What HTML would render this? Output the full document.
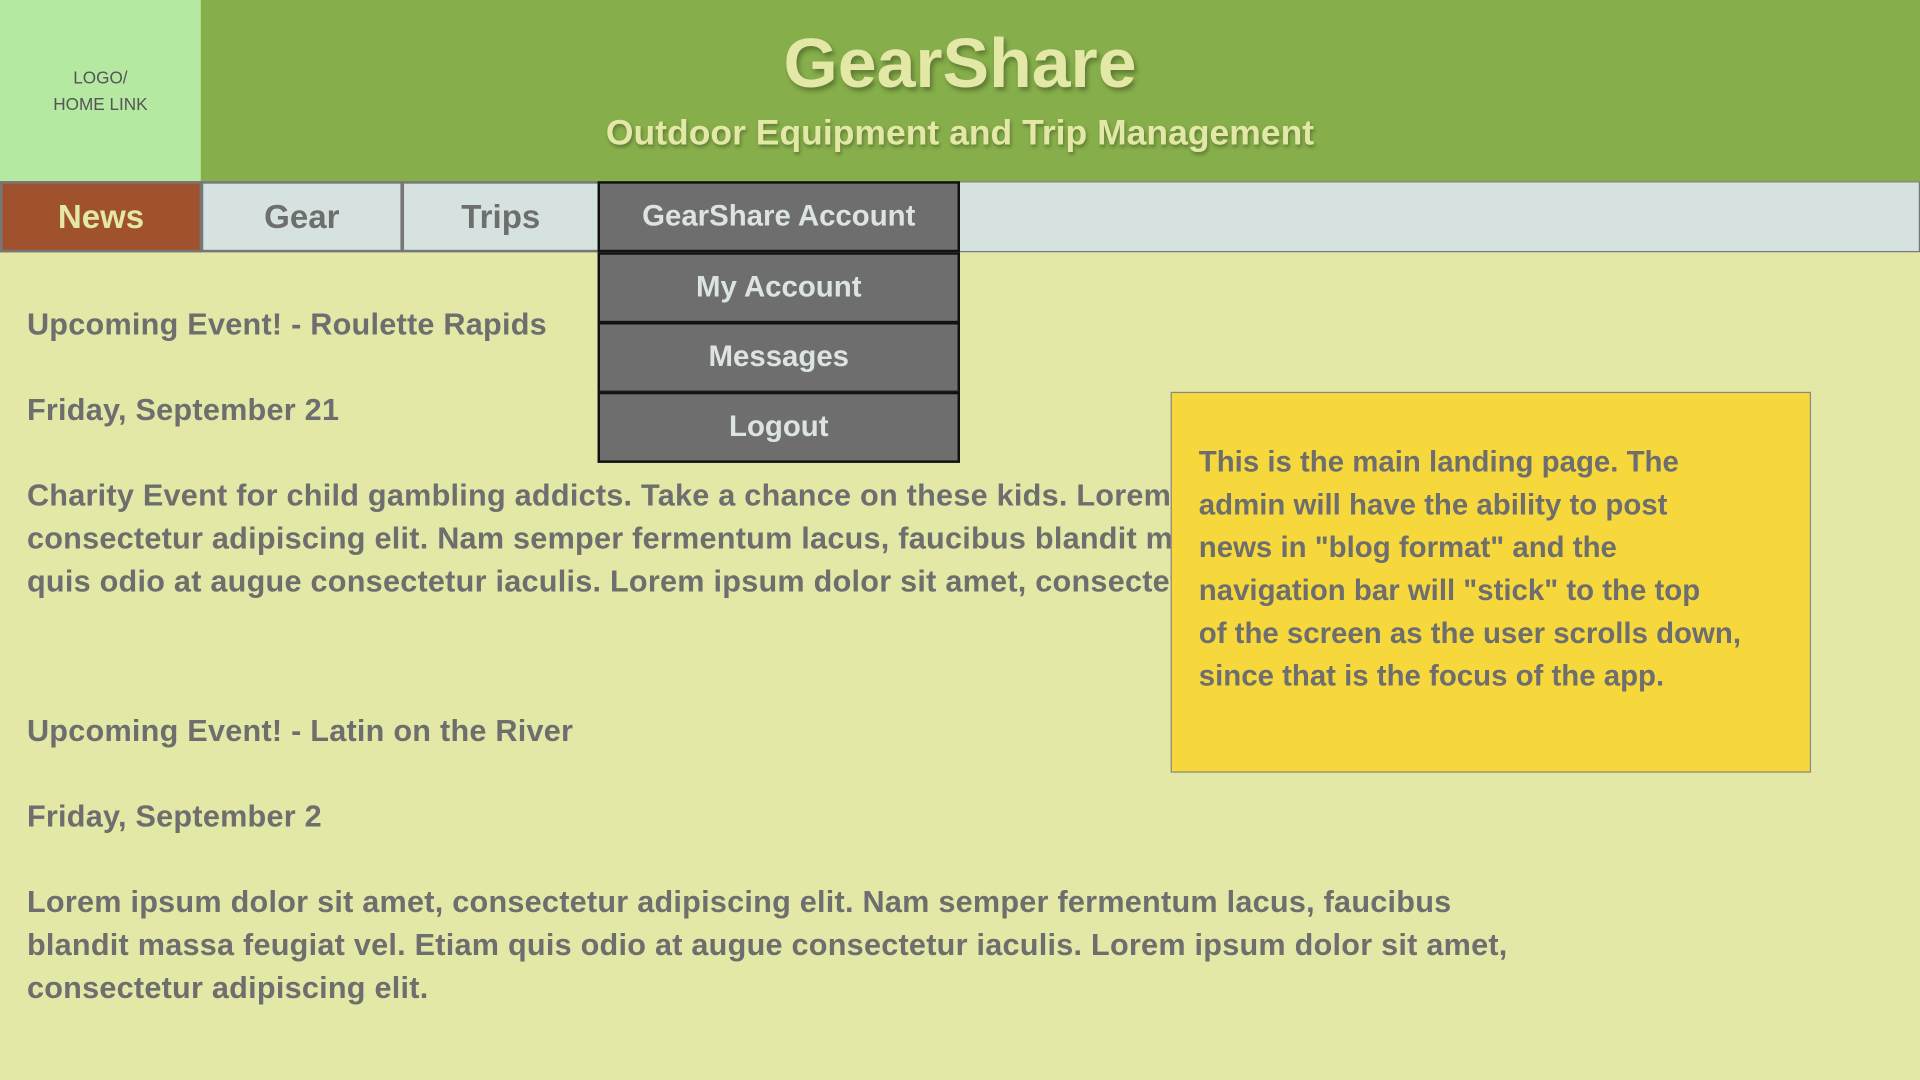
<!DOCTYPE html>
<html><head><meta charset="utf-8"><style>
html,body{margin:0;padding:0;width:1920px;height:1080px;overflow:hidden;background:#E3E8A6}
#s{position:absolute;left:0;top:0;width:1568px;height:882px;transform:scale(1.22449);transform-origin:0 0;font-family:"Liberation Sans",sans-serif;font-weight:bold;color:#6E6E6E;background:#E3E8A6}
.a{position:absolute;white-space:nowrap}
.c{display:flex;align-items:center;justify-content:center;box-sizing:border-box}
.t{font-size:25px;line-height:35px;letter-spacing:0.2px}
</style></head><body><div id="s">
<div class="a" style="left:0;top:0;width:1568px;height:148px;background:#86AE4A"></div>
<div class="a c" style="left:0;top:0;width:164px;height:148px;background:#B5E8A0;font-weight:normal;font-size:14px;line-height:22px;text-align:center;color:#555">LOGO/<br>HOME LINK</div>
<div class="a" style="left:164px;width:1240px;top:19px;text-align:center;font-size:57px;color:#E3E8A6;text-shadow:2px 3px 4px rgba(0,0,0,.3)">GearShare</div>
<div class="a" style="left:164px;width:1240px;top:93px;text-align:center;font-size:29px;color:#E3E8A6;text-shadow:1px 2px 3px rgba(0,0,0,.3)">Outdoor Equipment and Trip Management</div>
<div class="a" style="left:0;top:148px;width:1568px;height:58px;background:#D6E2E0;border:1px solid #777;box-sizing:border-box"></div>
<div class="a c" style="left:0;top:148px;width:165px;height:58px;background:#A0512D;border:2px solid #777;color:#E3E8A6;font-size:27px">News</div>
<div class="a c" style="left:164px;top:148px;width:165px;height:58px;border:2px solid #777;font-size:27px">Gear</div>
<div class="a c" style="left:328px;top:148px;width:162px;height:58px;border:2px solid #777;font-size:27px">Trips</div>
<div class="a c" style="left:488px;top:148px;width:296px;height:58px;background:#6E6E6E;border:2px solid #111;color:#DCE4E0;font-size:24px">GearShare Account</div>
<div class="a c" style="left:488px;top:206px;width:296px;height:58px;background:#6E6E6E;border:2px solid #111;color:#DCE4E0;font-size:24px">My Account</div>
<div class="a c" style="left:488px;top:263px;width:296px;height:58px;background:#6E6E6E;border:2px solid #111;color:#DCE4E0;font-size:24px">Messages</div>
<div class="a c" style="left:488px;top:320px;width:296px;height:58px;background:#6E6E6E;border:2px solid #111;color:#DCE4E0;font-size:24px">Logout</div>
<div class="a t" style="left:22px;top:248px">Upcoming Event! - Roulette Rapids</div>
<div class="a t" style="left:22px;top:318px">Friday, September 21</div>
<div class="a t" style="left:22px;top:388px">Charity Event for child gambling addicts. Take a chance on these kids. Lorem ipsum dolor sit amet,<br>consectetur adipiscing elit. Nam semper fermentum lacus, faucibus blandit massa feugiat vel. Etiam<br>quis odio at augue consectetur iaculis. Lorem ipsum dolor sit amet, consectetur adipiscing elit.</div>
<div class="a t" style="left:22px;top:580px">Upcoming Event! - Latin on the River</div>
<div class="a t" style="left:22px;top:650px">Friday, September 2</div>
<div class="a t" style="left:22px;top:720px">Lorem ipsum dolor sit amet, consectetur adipiscing elit. Nam semper fermentum lacus, faucibus<br>blandit massa feugiat vel. Etiam quis odio at augue consectetur iaculis. Lorem ipsum dolor sit amet,<br>consectetur adipiscing elit.</div>
<div class="a" style="left:956px;top:320px;width:523px;height:311px;background:#F6D83D;border:1px solid #888;box-sizing:border-box"></div>
<div class="a" style="left:979px;top:360px;font-size:24px;line-height:35px">This is the main landing page. The<br>admin will have the ability to post<br>news in "blog format" and the<br>navigation bar will "stick" to the top<br>of the screen as the user scrolls down,<br>since that is the focus of the app.</div>
</div></body></html>
